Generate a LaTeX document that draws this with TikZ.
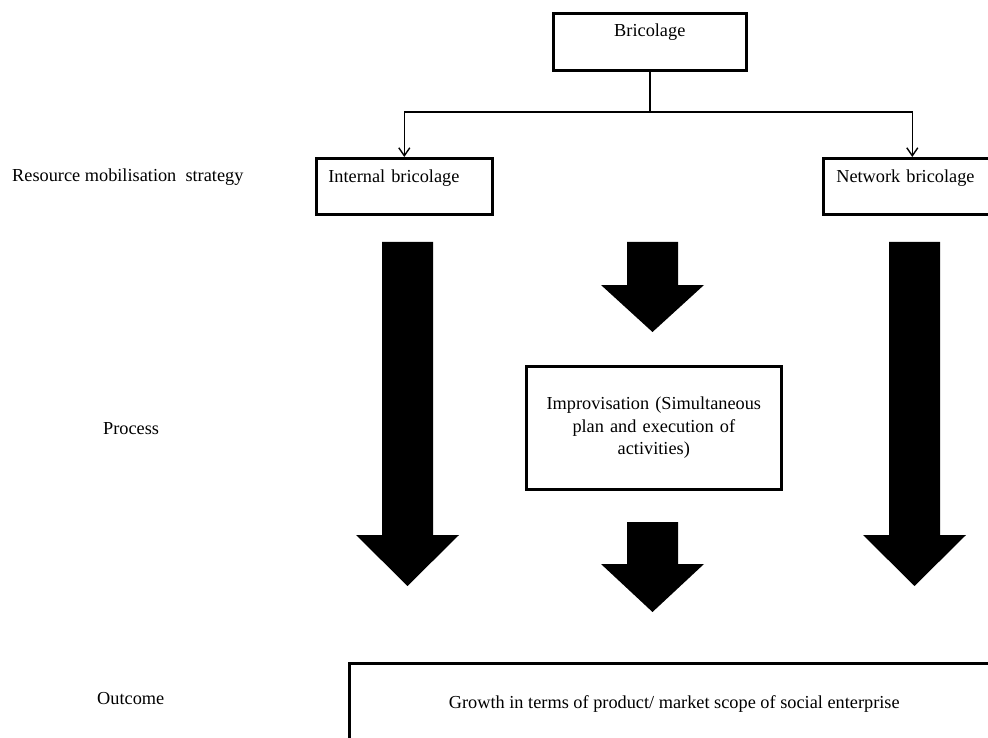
\documentclass[tikz,border=0pt]{standalone}
\usepackage{fontspec}
\setmainfont{Liberation Serif}
\usetikzlibrary{arrows.meta}
\begin{document}
\begin{tikzpicture}[x=1pt,y=-1pt,
  every node/.style={font=\fontsize{18.3}{22.5}\selectfont},
  box/.style={draw, line width=2.6pt, inner ysep=0pt},
  sidelabel/.style={anchor=base west, inner sep=0pt},
  link/.style={line width=1.4pt},
  linkarrow/.style={line width=1.4pt, -{Straight Barb[length=8pt,width=11pt,line width=1.4pt]}},
  blockarrow/.style={fill=black, draw=none}]
\useasboundingbox (0,0) rectangle (988,738);
\clip (0,0) rectangle (988,738);

% boxes
\node[box, anchor=north west, inner xsep=0pt, minimum width=193pt,
      text height=23pt, text depth=34pt] (bri) at (552,12) {Bricolage};
\node[box, anchor=north west, inner xsep=12pt, text width=152pt, align=left,
      text height=24pt, text depth=32pt] (int) at (315,157) {Internal bricolage};
\node[box, anchor=north west, inner xsep=13pt, text width=152pt, align=left,
      text height=24pt, text depth=32pt] (net) at (822,157) {Network bricolage};
\node[box, anchor=north west, minimum width=255pt, minimum height=123pt,
      inner xsep=0pt, text width=245pt, align=center] (imp) at (525,365)
      {Improvisation (Simultaneous\\ plan and execution of\\ activities)};
\node[box, anchor=north west, minimum width=650pt, minimum height=82pt,
      align=center] (out) at (348,662)
      {Growth in terms of product/ market scope of social enterprise};

% side labels
\node[sidelabel] (lres) at (12,181.5) {Resource mobilisation\ \ strategy};
\node[sidelabel] (lproc) at (103,434) {Process};
\node[sidelabel] (lout) at (97,704) {Outcome};

% thin connectors
\coordinate (split) at (bri.south |- 0,112);
\draw[link] (bri.south) -- (split);
\draw[linkarrow] (split) -| (int.north);
\draw[linkarrow] (split) -| (net.north);

% block arrows
\newcommand{\bigdownarrow}[4]{% x, top, headbase, tip
  \fill[blockarrow] (#1-25.5,#2) -- (#1+25.5,#2) -- (#1+25.5,#3) -- (#1+51.5,#3)
    -- (#1,#4) -- (#1-51.5,#3) -- (#1-25.5,#3) -- cycle;}
\bigdownarrow{407.5}{242}{535}{586}
\bigdownarrow{914.5}{242}{535}{586}
\bigdownarrow{652.5}{242}{285}{332}
\bigdownarrow{652.5}{522}{564}{612}
\end{tikzpicture}
\end{document}
